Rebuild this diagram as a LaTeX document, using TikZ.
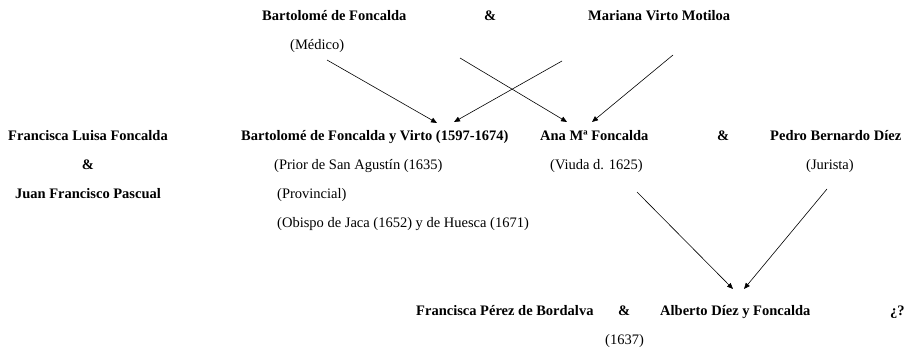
\documentclass[tikz,border=0pt]{standalone}
\usepackage{fontspec}
\setmainfont{Liberation Serif}
\usepackage{tikz}
\usetikzlibrary{arrows.meta}
\tikzset{
    person-name/.style = {font=\fontsize{14.5}{17}\selectfont\bfseries, inner sep=0pt, anchor=base west},
    person-note/.style = {font=\fontsize{14.5}{17}\selectfont, inner sep=0pt, anchor=base west},
    child-arrow/.style = {-{Triangle[length=6pt,width=5pt]}, line width=0.6pt},
}

\begin{document}
\begin{tikzpicture}[x=1pt,y=-1pt]
\useasboundingbox (0,0) rectangle (905,352);
% parents
\node[person-name] (bdf) at (262,21) {Bartolomé de Foncalda};
\node[person-name] (amp-top) at (484,21) {\&};
\node[person-name] (mvm) at (588,21) {Mariana Virto Motiloa};
\node[person-note] (medico) at (290,50) {(Médico)};
% children
\node[person-name, anchor=base] (flf) at (88,141) {Francisca Luisa Foncalda};
\node[person-name, anchor=base] (amp-left) at (88,170) {\&};
\node[person-name, anchor=base] (jfp) at (88,199) {Juan Francisco Pascual};
\node[person-name] (bfv) at (241,141) {Bartolomé de Foncalda y Virto (1597-1674)};
\node[person-note] (prior) at (274,170) {(Prior de San Agustín (1635)};
\node[person-note] (provincial) at (277,199) {(Provincial)};
\node[person-note] (obispo) at (277,228) {(Obispo de Jaca (1652) y de Huesca (1671)};
\node[person-name] (ana) at (540,141) {Ana Mª Foncalda};
\node[person-note] (viuda) at (550,170) {(Viuda d. 1625)};
\node[person-name] (amp-mid) at (717,141) {\&};
\node[person-name] (pbd) at (770,141) {Pedro Bernardo Díez};
\node[person-note] (jurista) at (806,170) {(Jurista)};
% grandchildren
\node[person-name] (fpb) at (416,316) {Francisca Pérez de Bordalva};
\node[person-name] (amp-bot) at (618,316) {\&};
\node[person-name] (adf) at (660,316) {Alberto Díez y Foncalda};
\node[person-name] (unknown) at (890,316) {¿?};
\node[person-note] (year) at (605,345) {(1637)};
% arrows
\draw[child-arrow] ([xshift=37pt,yshift=-10pt]medico.base west) -- ([xshift=196pt,yshift=18pt]bfv.base west);
\draw[child-arrow] ([xshift=198pt,yshift=-37pt]bdf.base west) -- ([xshift=27pt,yshift=19pt]ana.base west);
\draw[child-arrow] ([xshift=-26pt,yshift=-40pt]mvm.base west) -- ([xshift=213pt,yshift=19pt]bfv.base west);
\draw[child-arrow] ([xshift=85pt,yshift=-34pt]mvm.base west) -- ([xshift=52pt,yshift=19pt]ana.base west);
\draw[child-arrow] ([xshift=87pt,yshift=-22pt]viuda.base west) -- ([xshift=73pt,yshift=27pt]adf.base west);
\draw[child-arrow] ([xshift=21pt,yshift=-19pt]jurista.base west) -- ([xshift=84pt,yshift=27pt]adf.base west);
\end{tikzpicture}
\end{document}
